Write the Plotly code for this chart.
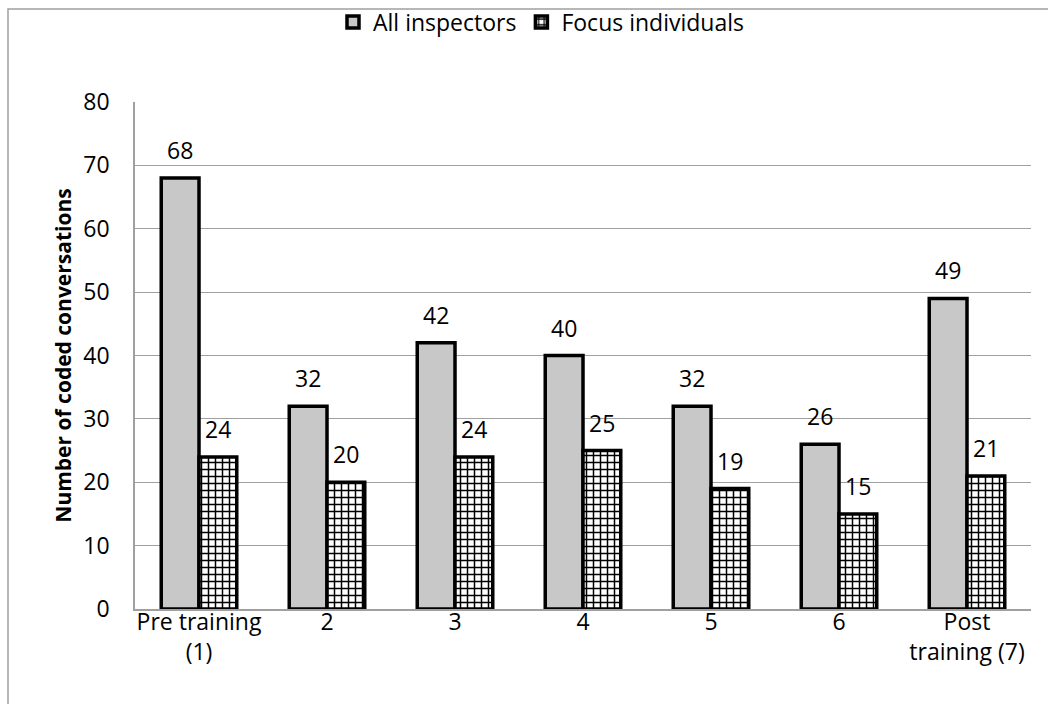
import plotly.graph_objects as go

# Data
categories = ["Pre training<br>(1)", "2", "3", "4", "5", "6", "Post<br>training (7)"]
all_inspectors = [68, 32, 42, 40, 32, 26, 49]
focus_individuals = [24, 20, 24, 25, 19, 15, 21]
y_ticks = [0, 10, 20, 30, 40, 50, 60, 70, 80]

FONT = "Open Sans"
FS = 23
W, H = 1048, 704
L, R, T, B = 135, 17, 102, 95
pw, ph = W - L - R, H - T - B
BAR_HALF = 19  # half of one bar's width in px, for value-label placement

fig = go.Figure()
fig.add_trace(go.Bar(
    name="All inspectors",
    x=categories, y=all_inspectors,
    marker=dict(color="#c8c8c8", line=dict(color="black", width=3.5)),
))
fig.add_trace(go.Bar(
    name="Focus individuals",
    x=categories, y=focus_individuals,
    marker=dict(color="white",
                line=dict(color="black", width=3.5),
                pattern=dict(shape="+", fgcolor="black", bgcolor="white",
                             size=7, solidity=0.38, fillmode="replace")),
))

# value labels above each bar (x given as category index)
for series, shift in ((all_inspectors, -BAR_HALF), (focus_individuals, BAR_HALF)):
    for i, val in enumerate(series):
        fig.add_annotation(x=i, y=val, text=str(val), showarrow=False,
                           xshift=shift, yshift=10, yanchor="bottom",
                           font=dict(family=FONT, size=FS, color="black"))

# outer chart border
def px_x(v):
    return (v - L) / pw

def px_y(v):
    return (H - B - v) / ph

fig.add_shape(type="rect", xref="paper", yref="paper",
              x0=px_x(8), x1=px_x(W + 4), y0=px_y(H + 4), y1=px_y(9),
              line=dict(color="#a0a0a0", width=1.5), layer="below")

fig.update_layout(
    width=W, height=H,
    margin=dict(l=L, r=R, t=T, b=B, autoexpand=False),
    paper_bgcolor="white", plot_bgcolor="white",
    barmode="group", bargap=0.41, bargroupgap=0,
    font=dict(family=FONT, size=FS, color="black"),
    showlegend=True,
    legend=dict(orientation="h", x=px_x(541), xanchor="center", y=px_y(22), yanchor="middle",
                font=dict(family=FONT, size=FS, color="black"),
                itemwidth=30, traceorder="normal", bgcolor="rgba(0,0,0,0)"),
)
fig.update_xaxes(
    showline=True, linecolor="#a0a0a0", linewidth=1.5, mirror=False,
    ticks="", tickfont=dict(family=FONT, size=FS, color="black"),
    ticklabelstandoff=-8,
    showgrid=False, automargin=False,
)
fig.update_yaxes(
    range=[0, 80], tickvals=y_ticks, ticks="",
    showline=True, linecolor="#a0a0a0", linewidth=1.5,
    showgrid=True, gridcolor="#a0a0a0", gridwidth=1.2,
    tickfont=dict(family=FONT, size=FS, color="black"),
    ticklabelstandoff=19, automargin=False,
    title=dict(text="<b>Number of coded conversations</b>", standoff=6,
               font=dict(family=FONT, size=21, color="black")),
    zeroline=False,
)

fig.write_html("out.html")
